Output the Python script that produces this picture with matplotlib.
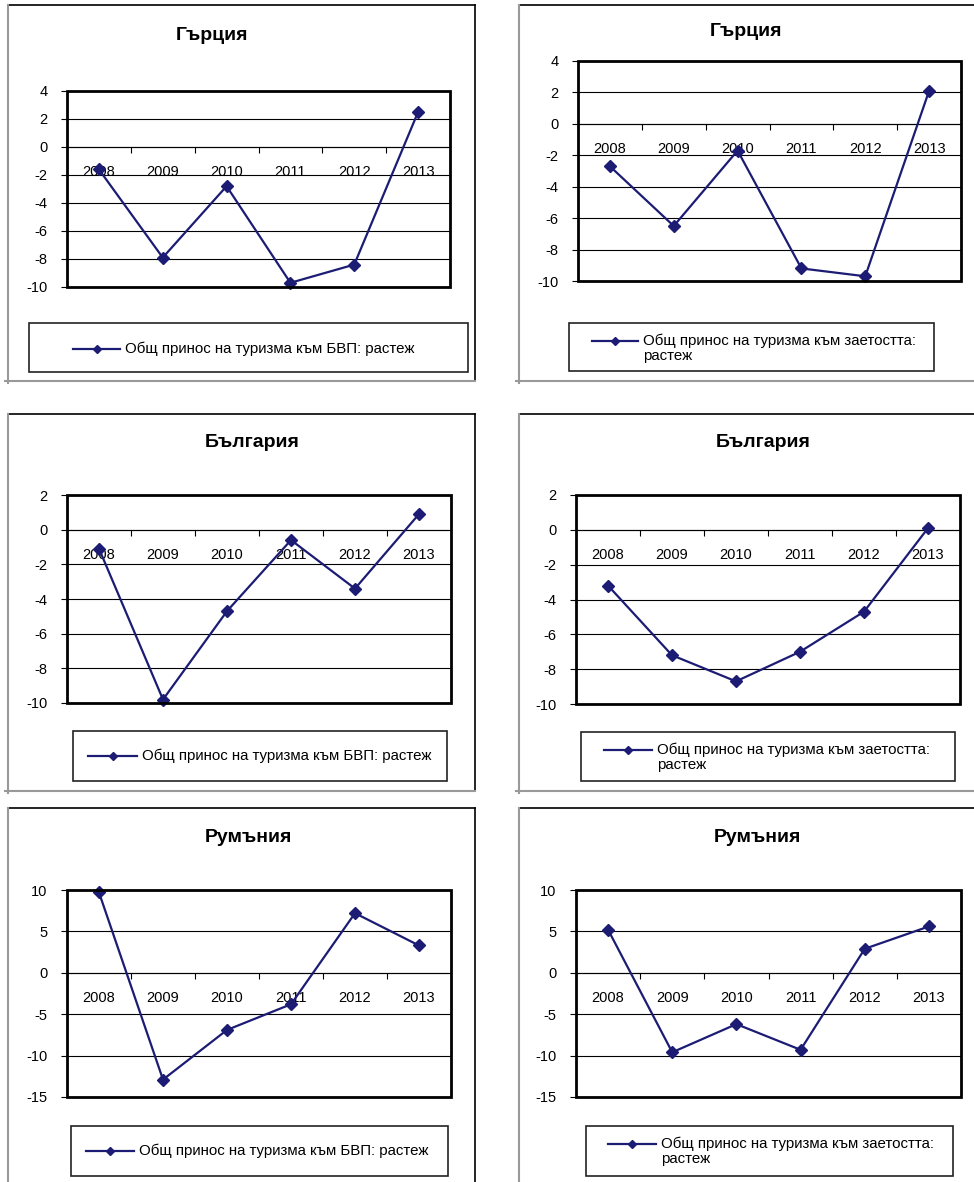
import matplotlib.pyplot as plt
from matplotlib.lines import Line2D
from matplotlib.patches import Rectangle

plt.rcParams['font.family'] = ['Liberation Sans', 'DejaVu Sans']

years = ['2008', '2009', '2010', '2011', '2012', '2013']

titles = ['Гърция', 'Гърция', 'България', 'България', 'Румъния', 'Румъния']
label_gdp = 'Общ принос на туризма към БВП: растеж'
label_emp = 'Общ принос на туризма към заетостта:\nрастеж'

gdp_greece = [-1.6, -7.9, -2.8, -9.7, -8.4, 2.5]
emp_greece = [-2.7, -6.5, -1.7, -9.2, -9.7, 2.1]
gdp_bulgaria = [-1.1, -9.8, -4.7, -0.6, -3.4, 0.9]
emp_bulgaria = [-3.2, -7.2, -8.7, -7.0, -4.7, 0.1]
gdp_romania = [9.7, -12.9, -6.9, -3.8, 7.2, 3.3]
emp_romania = [5.2, -9.6, -6.2, -9.3, 2.9, 5.6]

yticks_greece = [-10, -8, -6, -4, -2, 0, 2, 4]
yticks_bulgaria = [-10, -8, -6, -4, -2, 0, 2]
yticks_romania = [-15, -10, -5, 0, 5, 10]

W, H = 974, 1182
NAVY = '#1c1c74'

fig = plt.figure(figsize=(W / 100, H / 100), dpi=100)


def fx(px):
    return px / W


def fy(py):
    return 1 - py / H


# pixel layout of each panel: plot area, title centre, legend box, legend handle
panels = [
    dict(data=gdp_greece, yt=yticks_greece, label=label_gdp, title=titles[0],
         plot=(67, 91, 450, 287), tpos=(212, 35), box=(29, 323, 468, 372), hand=(73, 120, 349)),
    dict(data=emp_greece, yt=yticks_greece, label=label_emp, title=titles[1],
         plot=(578, 61, 961, 281), tpos=(746, 32), box=(569, 323, 934, 371), hand=(592, 638, 341)),
    dict(data=gdp_bulgaria, yt=yticks_bulgaria, label=label_gdp, title=titles[2],
         plot=(67, 495, 451, 703), tpos=(252, 443), box=(73, 731, 447, 781), hand=(88, 137, 756)),
    dict(data=emp_bulgaria, yt=yticks_bulgaria, label=label_emp, title=titles[3],
         plot=(576, 495, 960, 704), tpos=(763, 443), box=(581, 732, 955, 781), hand=(604, 652, 750)),
    dict(data=gdp_romania, yt=yticks_romania, label=label_gdp, title=titles[4],
         plot=(67, 890, 451, 1097), tpos=(248, 838), box=(71, 1126, 448, 1176), hand=(86, 134, 1151)),
    dict(data=emp_romania, yt=yticks_romania, label=label_emp, title=titles[5],
         plot=(576, 890, 961, 1097), tpos=(757, 838), box=(586, 1126, 953, 1176), hand=(608, 656, 1144)),
]

for p in panels:
    x0, y0, x1, y1 = p['plot']
    ax = fig.add_axes([fx(x0), fy(y1), (x1 - x0) / W, (y1 - y0) / H])
    xs = list(range(len(years)))
    ax.plot(xs, p['data'], color=NAVY, lw=1.6, marker='D', ms=6.5, zorder=4, clip_on=False)

    ax.set_xlim(-0.5, len(years) - 0.5)
    ax.set_ylim(p['yt'][0], p['yt'][-1])
    ax.set_yticks(p['yt'])
    ax.set_yticklabels([str(v) for v in p['yt']], fontsize=10.5)
    ax.yaxis.grid(True, color='black', lw=0.8)
    ax.set_axisbelow(True)
    ax.tick_params(axis='y', direction='out', length=4, width=0.8, pad=10)

    # category axis sits on the zero line
    for s in ['top', 'left', 'right']:
        ax.spines[s].set_visible(False)
    ax.spines['bottom'].set_position(('data', 0))
    ax.spines['bottom'].set_linewidth(0.8)
    ax.set_xticks([i + 0.5 for i in range(len(years) - 1)])
    ax.set_xticklabels([])
    ax.tick_params(axis='x', which='major', direction='out', length=4, width=0.8)
    ax.set_xticks(xs, minor=True)
    ax.set_xticklabels(years, minor=True, fontsize=10.5)
    ax.tick_params(axis='x', which='minor', length=0, pad=13)
    ax.add_patch(Rectangle((0, 0), 1, 1, transform=ax.transAxes, fill=False,
                           lw=2, ec='black', clip_on=False, zorder=5))

    # title
    fig.text(fx(p['tpos'][0]), fy(p['tpos'][1]), p['title'], ha='center', va='center',
             fontsize=14, fontweight='bold')

    # legend box
    bx0, by0, bx1, by1 = p['box']
    fig.add_artist(Rectangle((fx(bx0), fy(by1)), (bx1 - bx0) / W, (by1 - by0) / H,
                             transform=fig.transFigure, fill=False, lw=1.2, ec='#222222'))
    hx0, hx1, hy = p['hand']
    fig.add_artist(Line2D([fx(hx0), fx((hx0 + hx1) / 2), fx(hx1)], [fy(hy)] * 3,
                          transform=fig.transFigure, color=NAVY, lw=1.6,
                          marker='D', ms=4.5, markevery=[1]))
    fig.text(fx(hx1 + 5), fy(hy - 7), p['label'], ha='left', va='top',
             fontsize=10.8, linespacing=1.05)

# panel frames: black top/right, grey left/bottom
grey = '#999999'
rows = [(5, 381), (414, 791), (808, H + 2)]
for top, bottom in rows:
    for left, right in [(8, 475), (519, None)]:
        xr = right if right is not None else W + 2
        fig.add_artist(Line2D([fx(left), fx(xr)], [fy(top)] * 2, color='black', lw=1.2))
        fig.add_artist(Line2D([fx(left)] * 2, [fy(top), fy(bottom + 2)], color=grey, lw=1.5))
        if right is not None:
            fig.add_artist(Line2D([fx(right)] * 2, [fy(top), fy(bottom)], color='black', lw=1.2))
        if bottom < H:
            fig.add_artist(Line2D([fx(left - 3), fx(xr)], [fy(bottom)] * 2, color=grey, lw=1.5))

fig.savefig('out.png', dpi=100, facecolor='white')
